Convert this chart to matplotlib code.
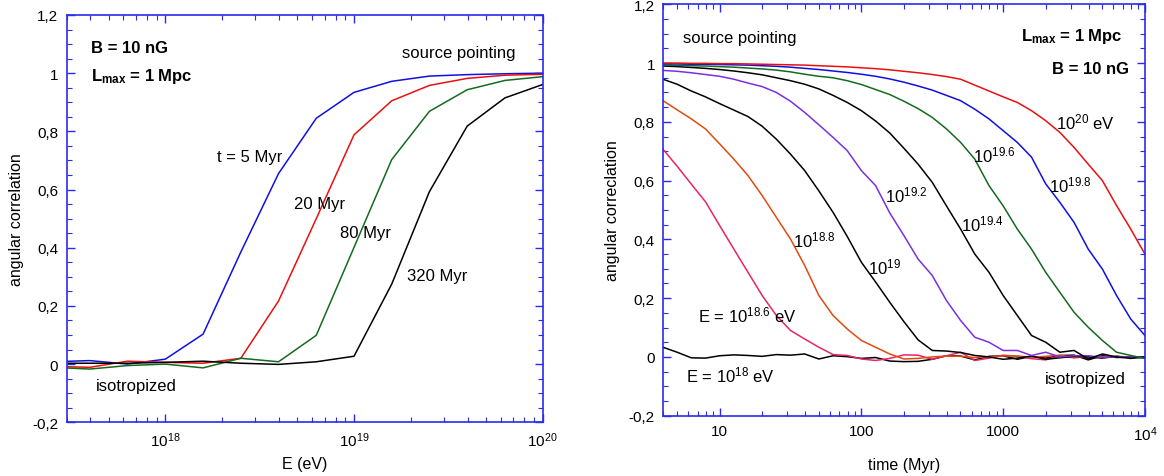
import matplotlib
matplotlib.use("Agg")
import matplotlib.pyplot as plt
from matplotlib.ticker import FixedLocator, FuncFormatter, LogLocator, NullFormatter, MultipleLocator

plt.rcParams['font.family'] = ['Liberation Sans', 'DejaVu Sans']
plt.rcParams['mathtext.fontset'] = 'custom'
plt.rcParams['mathtext.rm'] = 'Liberation Sans'
plt.rcParams['mathtext.it'] = 'Liberation Sans:italic'
plt.rcParams['mathtext.bf'] = 'Liberation Sans:bold'

# left panel: correlation vs energy, one curve per time
log_energy = [17.4, 17.6, 17.8, 18.0, 18.2, 18.4, 18.6, 18.8, 19.0, 19.2, 19.4, 19.6, 19.8, 20.0]
corr_t5 = [0.008, 0.012, 0.0, 0.017, 0.103, 0.385, 0.655, 0.845, 0.934, 0.972, 0.99, 0.995, 0.998, 1.0]
corr_t20 = [-0.008, -0.011, 0.01, 0.006, 0.003, 0.02, 0.217, 0.5, 0.788, 0.905, 0.958, 0.982, 0.993, 0.996]
corr_t80 = [-0.011, -0.017, -0.005, 0.0, -0.013, 0.02, 0.008, 0.099, 0.401, 0.703, 0.869, 0.943, 0.975, 0.988]
corr_t320 = [0.003, 0.003, 0.003, 0.006, 0.01, 0.003, -0.001, 0.008, 0.027, 0.275, 0.593, 0.818, 0.915, 0.961]

# right panel: correlation vs time, one curve per energy
log_time = [0.6, 0.7, 0.8, 0.9, 1.0, 1.1, 1.2, 1.3, 1.4, 1.5, 1.6, 1.7, 1.8, 1.9, 2.0, 2.1, 2.2,
            2.3, 2.4, 2.5, 2.6, 2.7, 2.8, 2.9, 3.0, 3.1, 3.2, 3.3, 3.4, 3.5, 3.6, 3.7, 3.8, 3.9, 4.0]
corr_e18 = [0.033, 0.016, -0.003, -0.004, 0.004, 0.007, 0.005, 0.002, 0.008, 0.006, 0.010, -0.007,
            0.004, 0.001, -0.005, -0.002, -0.014, -0.016, -0.015, -0.008, 0.004, 0.003, -0.010,
            0.002, 0.004, -0.008, 0.002, -0.004, 0.005, 0.006, -0.010, 0.004, -0.002, 0.000, -0.003]
corr_e186 = [0.707, 0.649, 0.588, 0.528, 0.447, 0.367, 0.288, 0.209, 0.141, 0.090, 0.061, 0.033,
             0.008, 0.005, -0.007, -0.012, -0.005, 0.007, 0.006, -0.008, 0.004, 0.016, -0.012,
             -0.004, 0.006, 0.002, -0.006, -0.010, 0.004, -0.003, 0.002, -0.002, 0.001, -0.002, 0.000]
corr_e188 = [0.872, 0.841, 0.810, 0.776, 0.725, 0.673, 0.617, 0.549, 0.475, 0.401, 0.311, 0.209,
             0.141, 0.095, 0.056, 0.033, 0.010, -0.007, -0.005, 0.000, 0.003, 0.002, -0.002,
             0.001, 0.004, 0.003, -0.001, 0.002, 0.006, -0.002, 0.001, 0.000, 0.002, -0.001, 0.000]
corr_e19 = [0.945, 0.928, 0.905, 0.885, 0.862, 0.840, 0.818, 0.785, 0.741, 0.690, 0.634, 0.565,
            0.492, 0.410, 0.322, 0.255, 0.186, 0.120, 0.058, 0.022, 0.020, 0.015, 0.005,
            0.000, -0.008, -0.004, 0.003, -0.008, -0.003, 0.002, 0.000, -0.004, 0.002, -0.002, 0.000]
corr_e192 = [0.975, 0.972, 0.967, 0.961, 0.955, 0.945, 0.932, 0.920, 0.900, 0.870, 0.832, 0.790,
             0.747, 0.702, 0.634, 0.583, 0.490, 0.413, 0.333, 0.277, 0.192, 0.124, 0.067,
             0.050, 0.022, 0.022, 0.005, 0.016, 0.000, 0.004, 0.004, -0.002, 0.001, -0.001, 0.000]
corr_e194 = [0.990, 0.988, 0.985, 0.982, 0.978, 0.973, 0.967, 0.960, 0.950, 0.940, 0.928, 0.912,
             0.890, 0.866, 0.838, 0.803, 0.762, 0.710, 0.656, 0.594, 0.514, 0.435, 0.350,
             0.288, 0.209, 0.141, 0.073, 0.050, 0.016, 0.022, -0.007, 0.010, 0.000, -0.005, 0.000]
corr_e196 = [0.993, 0.992, 0.991, 0.990, 0.988, 0.986, 0.983, 0.980, 0.976, 0.970, 0.962, 0.955,
             0.950, 0.940, 0.927, 0.910, 0.893, 0.870, 0.845, 0.815, 0.776, 0.730, 0.673,
             0.583, 0.514, 0.435, 0.367, 0.288, 0.220, 0.152, 0.101, 0.056, 0.016, 0.005, -0.005]
corr_e198 = [0.997, 0.997, 0.996, 0.996, 0.995, 0.994, 0.993, 0.991, 0.989, 0.986, 0.982, 0.978,
             0.973, 0.968, 0.962, 0.955, 0.946, 0.935, 0.922, 0.908, 0.890, 0.872, 0.843,
             0.810, 0.770, 0.730, 0.680, 0.589, 0.526, 0.458, 0.367, 0.299, 0.209, 0.129, 0.073]
corr_e20 = [1.000, 1.000, 0.999, 0.999, 0.998, 0.998, 0.997, 0.996, 0.995, 0.994, 0.993, 0.991,
            0.989, 0.987, 0.984, 0.981, 0.977, 0.972, 0.967, 0.961, 0.954, 0.945, 0.925,
            0.905, 0.885, 0.866, 0.838, 0.804, 0.764, 0.713, 0.656, 0.600, 0.515, 0.435, 0.350]

FRAME = '#2a2aee'
FS = 11      # tick labels
TS = 12      # annotations
LS = 11.5    # axis labels


def comma_fmt(v, pos):
    s = '%g' % round(v, 3)
    if s == '-0':
        s = '0'
    return s.replace('.', ',')


def style_axes(ax):
    for sp in ax.spines.values():
        sp.set_color(FRAME)
        sp.set_linewidth(1.2)
    ax.tick_params(which='both', direction='in', top=True, right=True, color=FRAME,
                   labelsize=FS, labelcolor='black', pad=6)
    ax.tick_params(which='major', length=6, width=1.0)
    ax.tick_params(which='minor', length=3.5, width=0.8)
    ax.set_ylim(-0.2, 1.2)
    ax.yaxis.set_major_locator(MultipleLocator(0.2))
    ax.yaxis.set_minor_locator(MultipleLocator(0.05))
    ax.yaxis.set_major_formatter(FuncFormatter(comma_fmt))
    ax.xaxis.set_minor_locator(LogLocator(base=10, subs=range(2, 10), numticks=20))
    ax.xaxis.set_minor_formatter(NullFormatter())


fig = plt.figure(figsize=(11.64, 4.77), dpi=100)

# ---- left panel
ax1 = fig.add_axes([0.0573, 0.1126, 0.4089, 0.8539])
energy = [10 ** e for e in log_energy]
ax1.plot(energy, corr_t5, color='#1010e0', lw=1.1)
ax1.plot(energy, corr_t20, color='#e81010', lw=1.1)
ax1.plot(energy, corr_t80, color='#156a1e', lw=1.1)
ax1.plot(energy, corr_t320, color='black', lw=1.1)
ax1.set_xscale('log')
ax1.set_xlim(3e17, 1e20)
style_axes(ax1)
ax1.xaxis.set_major_locator(FixedLocator([1e18, 1e19, 1e20]))
ax1.set_xticklabels([r'$\mathregular{10^{18}}$', r'$\mathregular{10^{19}}$', r'$\mathregular{10^{20}}$'])
ax1.set_xlabel('E (eV)', fontsize=LS, labelpad=5)
ax1.set_ylabel('angular correlation', fontsize=LS, labelpad=6)

ax1.text(0.052, 0.92, 'B = 10 nG', transform=ax1.transAxes, fontsize=TS, fontweight='bold', va='center')
ax1.text(0.052, 0.852, r'$\mathbf{L_{max}}$ = 1 Mpc', transform=ax1.transAxes, fontsize=TS,
         fontweight='bold', va='center')
ax1.text(0.705, 0.908, 'source pointing', transform=ax1.transAxes, fontsize=TS, va='center')
ax1.text(0.315, 0.652, 't = 5 Myr', transform=ax1.transAxes, fontsize=TS, va='center')
ax1.text(0.478, 0.536, '20 Myr', transform=ax1.transAxes, fontsize=TS, va='center')
ax1.text(0.574, 0.465, '80 Myr', transform=ax1.transAxes, fontsize=TS, va='center')
ax1.text(0.715, 0.36, '320 Myr', transform=ax1.transAxes, fontsize=TS, va='center')
ax1.text(0.062, 0.09, 'isotropized', transform=ax1.transAxes, fontsize=TS, va='center')

# ---- right panel
ax2 = fig.add_axes([0.5698, 0.1264, 0.4138, 0.8625])
time = [10 ** t for t in log_time]
ax2.plot(time, corr_e18, color='black', lw=1.1)
ax2.plot(time, corr_e186, color='#e8246a', lw=1.1)
ax2.plot(time, corr_e188, color='#e04a10', lw=1.1)
ax2.plot(time, corr_e19, color='black', lw=1.1)
ax2.plot(time, corr_e192, color='#7b2fe0', lw=1.1)
ax2.plot(time, corr_e194, color='black', lw=1.1)
ax2.plot(time, corr_e196, color='#156a1e', lw=1.1)
ax2.plot(time, corr_e198, color='#1010e0', lw=1.1)
ax2.plot(time, corr_e20, color='#e81010', lw=1.1)
ax2.set_xscale('log')
ax2.set_xlim(4, 1e4)
style_axes(ax2)
ax2.xaxis.set_major_locator(FixedLocator([10, 100, 1000, 1e4]))
ax2.set_xticklabels(['10', '100', '1000', r'$\mathregular{10^{4}}$'])
ax2.set_xlabel('time (Myr)', fontsize=LS, labelpad=10)
ax2.set_ylabel('angular correclation', fontsize=LS, labelpad=6)

ax2.text(0.04, 0.92, 'source pointing', transform=ax2.transAxes, fontsize=TS, va='center')
ax2.text(0.953, 0.925, r'$\mathbf{L_{max}}$ = 1 Mpc', transform=ax2.transAxes, fontsize=TS,
         fontweight='bold', va='center', ha='right')
ax2.text(0.968, 0.845, 'B = 10 nG', transform=ax2.transAxes, fontsize=TS, fontweight='bold',
         va='center', ha='right')
ax2.text(0.815, 0.715, r'$\mathregular{10^{20}}$ eV', transform=ax2.transAxes, fontsize=TS, va='center')
ax2.text(0.643, 0.636, r'$\mathregular{10^{19.6}}$', transform=ax2.transAxes, fontsize=TS, va='center')
ax2.text(0.8, 0.562, r'$\mathregular{10^{19.8}}$', transform=ax2.transAxes, fontsize=TS, va='center')
ax2.text(0.46, 0.537, r'$\mathregular{10^{19.2}}$', transform=ax2.transAxes, fontsize=TS, va='center')
ax2.text(0.619, 0.467, r'$\mathregular{10^{19.4}}$', transform=ax2.transAxes, fontsize=TS, va='center')
ax2.text(0.269, 0.428, r'$\mathregular{10^{18.8}}$', transform=ax2.transAxes, fontsize=TS, va='center')
ax2.text(0.425, 0.363, r'$\mathregular{10^{19}}$', transform=ax2.transAxes, fontsize=TS, va='center')
ax2.text(0.073, 0.245, r'E = $\mathregular{10^{18.6}}$ eV', transform=ax2.transAxes, fontsize=TS,
         va='center')
ax2.text(0.048, 0.1, r'E = $\mathregular{10^{18}}$ eV', transform=ax2.transAxes, fontsize=TS,
         va='center')
ax2.text(0.96, 0.09, 'isotropized', transform=ax2.transAxes, fontsize=TS, va='center', ha='right')

fig.savefig('out.png', dpi=100)
